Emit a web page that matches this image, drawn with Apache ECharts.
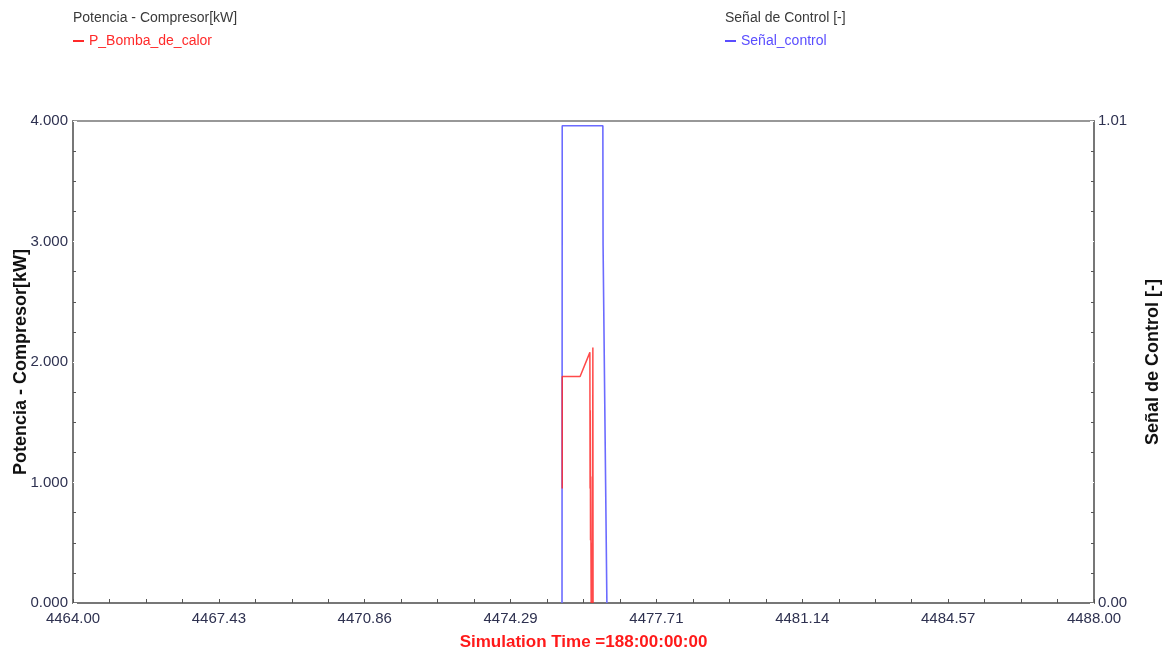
<!DOCTYPE html>
<html>
<head>
<meta charset="utf-8">
<script src="https://cdn.jsdelivr.net/npm/echarts@6/dist/echarts.min.js"></script>
<style>
  html, body { margin: 0; padding: 0; background: #fff; }
  #chart { width: 1170px; height: 650px; }
</style>
</head>
<body>
<div id="chart"></div>
<script>
// time axis in hours
const xMin = 4464;
const xMax = 4488;
const xTickLabels = ['4464.00', '4467.43', '4470.86', '4474.29', '4477.71', '4481.14', '4484.57', '4488.00'];

// P_Bomba_de_calor [kW]
const powerTime = [4475.50, 4475.50, 4475.92, 4476.150, 4476.155, 4476.160, 4476.165, 4476.170, 4476.175, 4476.180, 4476.185, 4476.190, 4476.195, 4476.200, 4476.205, 4476.210, 4476.220, 4476.225];
const powerVals = [0.95, 1.88, 1.88, 2.08, 0.95, 1.60, 0.52, 1.05, 0.52, 0.00, 0.50, 0.00, 0.50, 0.00, 0.50, 0.00, 2.12, 0.00];

// Señal_control [-]
const signalTime = [4475.495, 4475.50, 4476.455, 4476.46, 4476.52, 4476.55];
const signalVals = [0, 1, 1, 0.75, 0.25, 0];

const labelColor = '#2e3150';
const axisColor = '#777';
const font = "'Liberation Sans Narrow', 'Liberation Sans', Arial, sans-serif";
const plainFont = "'Liberation Sans', Arial, sans-serif";

const chart = echarts.init(document.getElementById('chart'));

const option = {
  animation: false,
  backgroundColor: '#fff',
  grid: {
    left: 73, right: 76, top: 121, bottom: 47,
    outerBoundsMode: 'none',
    containLabel: false,
    show: true, borderColor: axisColor, borderWidth: 1.5, backgroundColor: 'transparent'
  },
  legend: [
    {
      left: 73, top: 34, padding: 0, itemWidth: 11, itemHeight: 2, itemGap: 4, icon: 'rect',
      data: ['P_Bomba_de_calor'],
      textStyle: { color: '#ff2a2a', fontSize: 14, fontFamily: plainFont }
    },
    {
      left: 725, top: 34, padding: 0, itemWidth: 11, itemHeight: 2, itemGap: 4, icon: 'rect',
      data: ['Señal_control'],
      textStyle: { color: '#5a4dff', fontSize: 14, fontFamily: plainFont }
    }
  ],
  graphic: [
    { type: 'text', left: 73, top: 11, style: { text: 'Potencia - Compresor[kW]', fill: '#3a3a3a', fontSize: 14, fontFamily: plainFont } },
    { type: 'text', left: 725, top: 11, style: { text: 'Señal de Control [-]', fill: '#3a3a3a', fontSize: 14, fontFamily: plainFont } }
  ],
  xAxis: {
    type: 'value',
    min: xMin,
    max: xMax,
    interval: (xMax - xMin) / 7,
    name: 'Simulation Time =188:00:00:00',
    nameLocation: 'middle',
    nameGap: 31,
    nameMoveOverlap: false,
    nameTextStyle: { color: '#ff1a1a', fontSize: 17, fontWeight: 'bold', fontFamily: font },
    axisLine: { show: true, lineStyle: { color: axisColor, width: 2 } },
    axisTick: { show: true, inside: true, length: 4, lineStyle: { color: '#555' } },
    minorTick: { show: true, splitNumber: 4, length: 4, lineStyle: { color: '#555' } },
    splitLine: { show: false },
    axisLabel: {
      color: labelColor, fontSize: 15, fontFamily: font, margin: 8,
      formatter: (v) => {
        const i = Math.round((v - xMin) / ((xMax - xMin) / 7));
        return xTickLabels[i];
      }
    }
  },
  yAxis: [
    {
      type: 'value',
      min: 0, max: 4, interval: 1,
      position: 'left',
      name: 'Potencia - Compresor[kW]',
      nameLocation: 'middle',
      nameGap: 43,
      nameMoveOverlap: false,
      nameTextStyle: { color: '#111', fontSize: 18, fontWeight: 'bold', fontFamily: font },
      axisLine: { show: true, lineStyle: { color: axisColor, width: 2 } },
      axisTick: { show: true, inside: true, length: 4, lineStyle: { color: '#fff' } },
      minorTick: { show: true, splitNumber: 4, length: 3, lineStyle: { color: '#555' } },
      splitLine: { show: false },
      axisLabel: { color: labelColor, fontSize: 15, fontFamily: font, margin: 5, formatter: (v) => v.toFixed(3) }
    },
    {
      type: 'value',
      min: 0, max: 1.01, interval: 1.01 / 4,
      position: 'right',
      name: 'Señal de Control [-]',
      nameLocation: 'middle',
      nameGap: 50,
      nameRotate: 90,
      nameMoveOverlap: false,
      nameTextStyle: { color: '#111', fontSize: 18, fontWeight: 'bold', fontFamily: font },
      axisLine: { show: true, lineStyle: { color: axisColor, width: 2 } },
      axisTick: { show: true, inside: true, length: 4, lineStyle: { color: '#fff' } },
      minorTick: { show: true, splitNumber: 4, length: 3, lineStyle: { color: '#555' } },
      splitLine: { show: false },
      axisLabel: {
        color: labelColor, fontSize: 15, fontFamily: font, margin: 4,
        formatter: (v) => (v < 0.001 ? '0.00' : (Math.abs(v - 1.01) < 0.001 ? '1.01' : ''))
      }
    }
  ],
  series: [
    {
      name: 'Señal_control',
      type: 'line',
      yAxisIndex: 1,
      showSymbol: false,
      data: signalTime.map((t, i) => [t, signalVals[i]]),
      lineStyle: { color: '#6b6bff', width: 1.6 },
      itemStyle: { color: '#5a4dff' }
    },
    {
      name: 'P_Bomba_de_calor',
      type: 'line',
      yAxisIndex: 0,
      showSymbol: false,
      data: powerTime.map((t, i) => [t, powerVals[i]]),
      lineStyle: { color: '#ff2a2a', width: 1.5, opacity: 0.85 },
      itemStyle: { color: '#ff2a2a' }
    }
  ]
};

chart.setOption(option);
</script>
</body>
</html>
